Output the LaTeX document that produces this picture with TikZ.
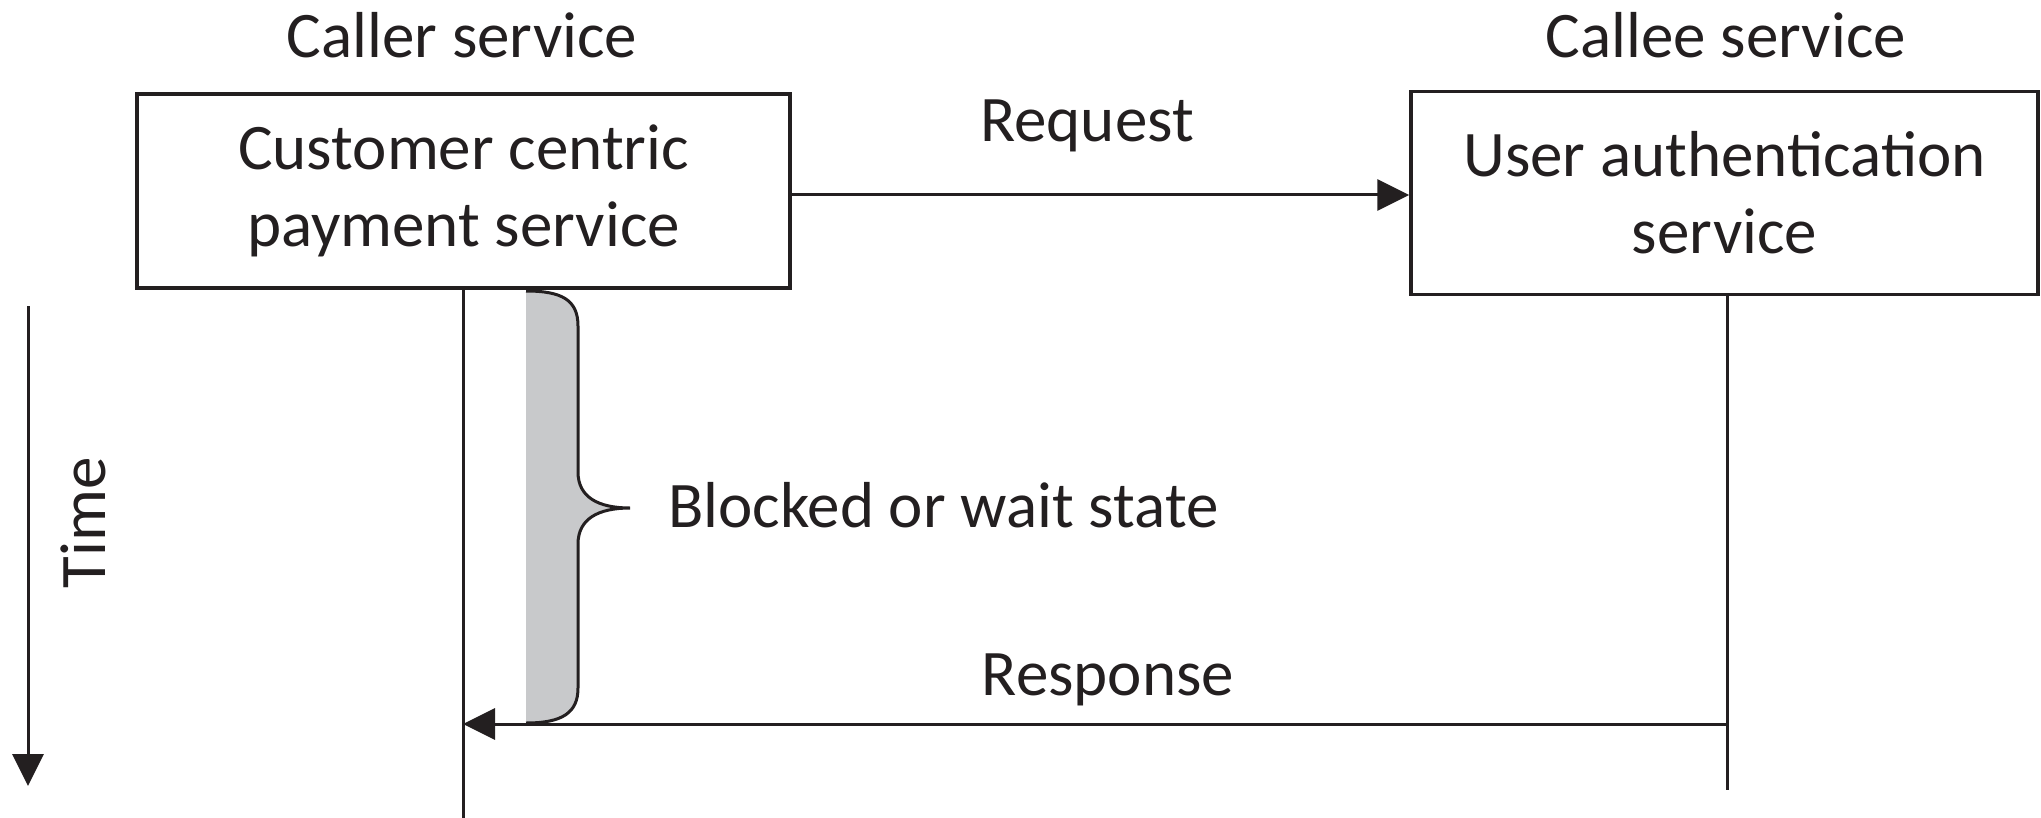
\documentclass[tikz,border=0pt]{standalone}
\usepackage{fontspec}
\setmainfont{Carlito}
\usetikzlibrary{arrows.meta}
\definecolor{ink}{HTML}{231F20}
\definecolor{band}{HTML}{C8C9CB}
\begin{document}
\begin{tikzpicture}[x=1pt,y=-1pt,
  every node/.style={font=\fontsize{65}{77}\selectfont, text=ink, inner sep=0pt},
  svc/.style={draw=ink, line width=3.5pt, align=center},
  life/.style={draw=ink, line width=3pt},
  msg/.style={draw=ink, line width=3pt, -{Triangle[length=32pt,width=31pt]}},
  lbl/.style={anchor=center}]
\useasboundingbox (0,0) rectangle (2041,818);
% boxes
\node[svc, minimum width=653pt, minimum height=194pt] (caller) at (463.5,191) {Customer centric\\payment service};
\node[svc, minimum width=627pt, minimum height=203pt] (callee) at (1724.5,193) {User authentication\\service};
% headings
\node[lbl] (hcaller) at (462,35) {Caller service};
\node[lbl] (hcallee) at (1726,35) {Callee service};
% lifeline ends
\coordinate (lend) at (463,818);
\coordinate (rend) at (1727,790);
\coordinate (lresp) at (463,724);
\coordinate (rresp) at (1727,724);
% gray band with brace
\fill[band] (526,291) .. controls (562,291) and (578,300) .. (578,326)
  -- (578,472) .. controls (578,497) and (598,508) .. (630,508)
  .. controls (598,508) and (578,519) .. (578,544)
  -- (578,688) .. controls (578,713) and (562,723) .. (526,723) -- cycle;
\draw[ink, line width=3pt] (526,291) .. controls (562,291) and (578,300) .. (578,326)
  -- (578,472) .. controls (578,497) and (598,508) .. (630,508)
  .. controls (598,508) and (578,519) .. (578,544)
  -- (578,688) .. controls (578,713) and (562,723) .. (526,723);
% lifelines
\draw[life] (caller.south -| lend) -- (lend);
\draw[life] (callee.south -| rend) -- (rend);
% messages
\draw[msg] (caller.east |- 0,195) -- (callee.west |- 0,195);
\draw[msg] (rresp) -- (lresp);
\node[lbl] (req) at (1087,126) {Request};
\node[lbl] (resp) at (1108,680) {Response};
\node[anchor=west] (blk) at (668,505) {Blocked or wait state};
% time axis
\coordinate (t0) at (28,306);
\coordinate (t1) at (28,786);
\draw[msg] (t0) -- (t1);
\node[rotate=90] (time) at (83,523) {Time};
\end{tikzpicture}
\end{document}
